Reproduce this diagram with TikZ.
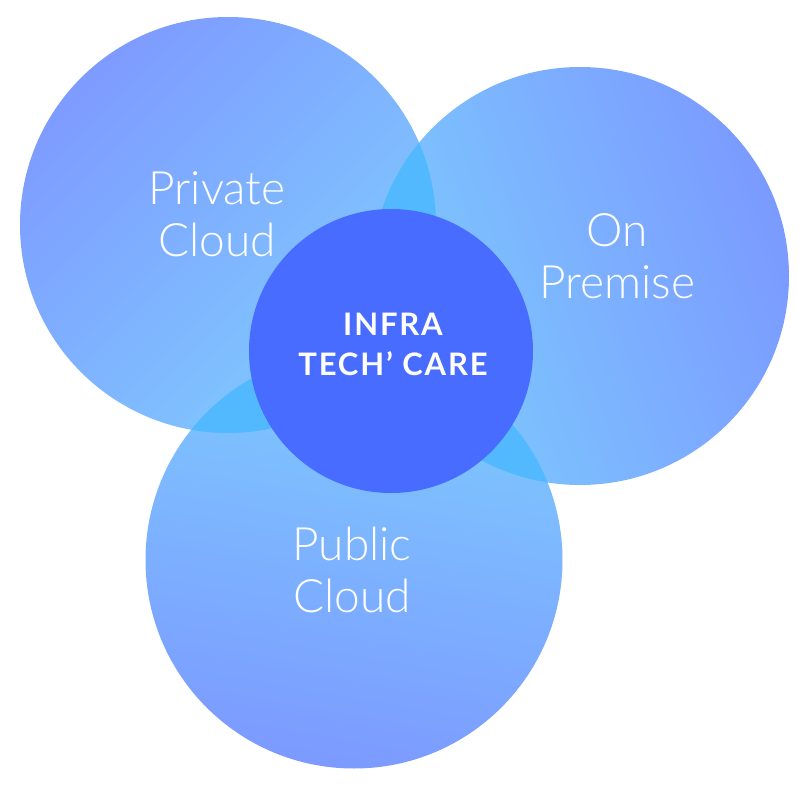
\documentclass[tikz,border=0pt]{standalone}
\usepackage{fontspec}
\setmainfont{Lato}
\newfontfamily\lightfont{Lato Light}
\definecolor{privdark}{HTML}{7E9BFF}
\definecolor{privlight}{HTML}{7FCBFE}
\definecolor{premdark}{HTML}{7B9AFF}
\definecolor{premlight}{HTML}{7DCBFE}
\definecolor{pubdark}{HTML}{7C9AFF}
\definecolor{publight}{HTML}{7DCBFE}
\definecolor{lens}{HTML}{53B9FE}
\definecolor{corecol}{HTML}{476CFF}
\tikzset{
  bubble/.style={circle, minimum size=416pt, inner sep=0pt, shading=axis},
  bubbletext/.style={inner sep=0pt, align=center, text=white,
    font=\lightfont\fontsize{46}{52}\selectfont},
}
\begin{document}
\begin{tikzpicture}[x=1pt,y=-1pt]
\useasboundingbox (0,0) rectangle (804,792);
\node[bubble, top color=privdark, bottom color=privlight, shading angle=45] (priv) at (228,225) {};
\node[bubble, minimum size=418pt, top color=premdark, bottom color=premlight, shading angle=-70] (prem) at (580,276) {};
\node[bubble, minimum size=417pt, top color=publight, bottom color=pubdark, shading angle=-10] (pub) at (354,560) {};

% overlaps
\begin{scope}
\clip (priv.center) circle[radius=208pt];
\fill[lens] (prem.center) circle[radius=209pt];
\fill[lens] (pub.center) circle[radius=208.5pt];
\end{scope}
\begin{scope}
\clip (prem.center) circle[radius=209pt];
\fill[lens] (pub.center) circle[radius=208.5pt];
\end{scope}

\node[circle, fill=corecol, minimum size=284pt, inner sep=0pt] (core) at (391,351) {};

\node[bubbletext] (privtext) at (217,214) {Private\\Cloud};
\node[bubbletext] (premtext) at (617,256) {On\\Premise};
\node[bubbletext] (pubtext) at (352,570) {Public\\Cloud};
\node[inner sep=0pt, align=center, text=white,
  font=\bfseries\addfontfeature{LetterSpace=6}\fontsize{31}{40}\selectfont] (coretext) at (393,344) {INFRA\\TECH’ CARE};
\end{tikzpicture}
\end{document}
